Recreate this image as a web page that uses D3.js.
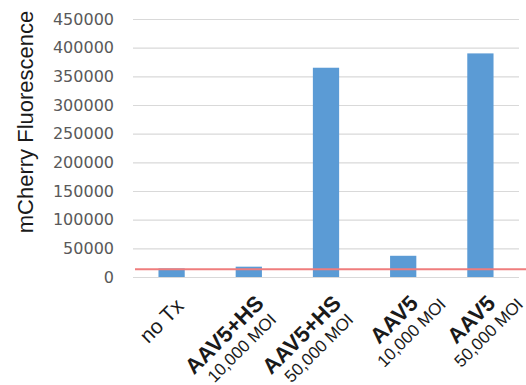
<!DOCTYPE html>
<html>
<head>
<meta charset="utf-8">
<script src="https://cdn.jsdelivr.net/npm/d3@7"></script>
<style>
  html, body { margin: 0; padding: 0; background: #fff; }
  svg { display: block; }
</style>
</head>
<body>
<svg id="chart" width="526" height="385"></svg>
<script>
// Groups: bold name on the first line, dose on the second
const groupNames = ["no Tx", "AAV5+HS", "AAV5+HS", "AAV5", "AAV5"];
const groupDoses = ["", "10,000 MOI", "50,000 MOI", "10,000 MOI", "50,000 MOI"];
const fluorescence = [15000, 18000, 365000, 37000, 390000];
const thresholdValue = 13500;
const yTicks = [0, 50000, 100000, 150000, 200000, 250000, 300000, 350000, 400000, 450000];
const yTitle = "mCherry Fluorescence";

const svg = d3.select("#chart");
const plotLeft = 133, plotRight = 519, plotTop = 19, plotBottom = 277;

const x = d3.scaleBand().domain(d3.range(groupNames.length)).range([plotLeft, plotRight]);
const y = d3.scaleLinear().domain([0, 450000]).range([plotBottom, plotTop]);

// Horizontal gridlines and value labels
const yAxis = d3.axisLeft(y).tickValues(yTicks).tickSize(-(plotRight - plotLeft)).tickPadding(19).tickFormat(d3.format("d"));
const gy = svg.append("g").attr("transform", `translate(${plotLeft},0)`).call(yAxis);
gy.select(".domain").remove();
gy.selectAll(".tick line").attr("stroke", "#d9d9d9").attr("stroke-width", 1.2);
gy.selectAll(".tick text")
  .attr("fill", "#595959")
  .style("font-family", "'DejaVu Sans', sans-serif")
  .style("font-size", "16px");

// Bars
const barW = x.step() * 0.34;
svg.append("g").selectAll("rect")
  .data(fluorescence)
  .join("rect")
  .attr("x", (d, i) => x(i) + x.bandwidth() / 2 - barW / 2)
  .attr("y", d => y(d))
  .attr("width", barW)
  .attr("height", d => y(0) - y(d))
  .attr("fill", "#5b9bd5");

// Background threshold line
svg.append("line")
  .attr("x1", plotLeft + 2).attr("x2", 526)
  .attr("y1", y(thresholdValue)).attr("y2", y(thresholdValue))
  .attr("stroke", "#ef7d7d").attr("stroke-width", 2);

// Rotated category labels
const labels = svg.append("g").selectAll("g")
  .data(groupNames)
  .join("g")
  .attr("transform", (d, i) => `translate(${x(i) + x.bandwidth() / 2},${plotBottom}) rotate(-45)`);

labels.each(function(name, i) {
  const g = d3.select(this);
  const dose = groupDoses[i];
  const first = g.append("text")
    .attr("x", dose ? -8 : -12).attr("y", 31)
    .attr("text-anchor", "end")
    .attr("fill", "#1a1a1a")
    .style("font-family", "'Liberation Sans', Arial, sans-serif")
    .style("font-size", dose ? "22px" : "21px")
    .style("font-weight", dose ? "bold" : "normal")
    .text(name);
  if (dose) {
    const w = first.node().getComputedTextLength();
    g.append("text")
      .attr("x", -8 - w / 2 + 3).attr("y", 51)
      .attr("text-anchor", "middle")
      .attr("fill", "#1a1a1a")
      .style("font-family", "'Liberation Sans', Arial, sans-serif")
      .style("font-size", "17px")
      .text(dose);
  }
});

// Axis title
svg.append("text")
  .attr("transform", `translate(33,${(plotTop + plotBottom) / 2 - 26}) rotate(-90)`)
  .attr("text-anchor", "middle")
  .attr("fill", "#1a1a1a")
  .style("font-family", "'Liberation Sans', Arial, sans-serif")
  .style("font-size", "22px")
  .text(yTitle);
</script>
</body>
</html>
